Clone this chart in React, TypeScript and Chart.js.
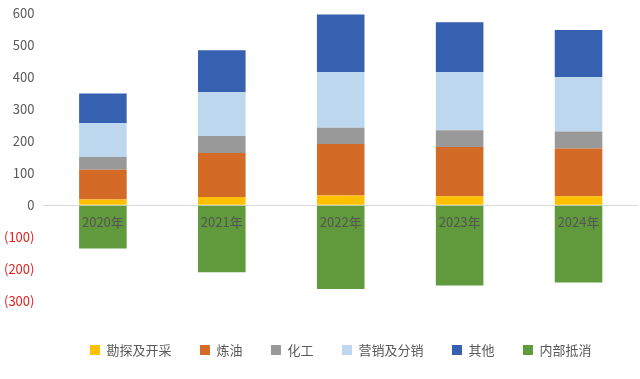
import React, { useEffect, useRef } from "react";
import { Chart, registerables } from "chart.js";

Chart.register(...registerables);

const categories = ["2020年", "2021年", "2022年", "2023年", "2024年"];
const seriesNames = ["勘探及开采", "炼油", "化工", "营销及分销", "其他", "内部抵消"];
const exploration = [18, 26, 31, 28, 28];
const refining = [93, 137, 160, 154, 149];
const chemicals = [40, 53, 51, 52, 53];
const marketing = [106, 137, 174, 182, 170];
const others = [92, 131, 179, 155, 147];
const elimination = [-135, -209, -261, -250, -241];
const seriesColors = ["#FFC000", "#D36B26", "#999999", "#BDD7EE", "#3660B0", "#619A3C"];
const yMin = -300;
const yMax = 600;
const yStep = 100;

const FONT = "'Noto Sans CJK SC', 'Noto Sans', sans-serif";

export default function App() {
  const ref = useRef<HTMLCanvasElement | null>(null);
  useEffect(() => {
    document.body.style.margin = "0";
    const values = [exploration, refining, chemicals, marketing, others, elimination];
    const chart = new Chart(ref.current as HTMLCanvasElement, {
      type: "bar",
      data: {
        labels: categories,
        datasets: seriesNames.map((name, i) => ({
          label: name,
          data: values[i],
          backgroundColor: seriesColors[i],
          borderWidth: 0,
          barPercentage: 0.4,
          categoryPercentage: 1.0,
        })),
      },
      options: {
        animation: false,
        responsive: false,
        maintainAspectRatio: false,
        layout: { padding: { left: -5, right: 2, top: 13, bottom: 12.5 } },
        plugins: {
          tooltip: { enabled: false },
          legend: {
            position: "bottom",
            fullSize: false,
            title: { display: true, text: "", padding: 0, font: { size: 11.25 } },
            labels: {
              boxWidth: 10,
              boxHeight: 10,
              padding: 28.5,
              color: "#595959",
              font: { family: FONT, size: 13 },
            },
          },
        },
        scales: {
          x: {
            stacked: true,
            position: { y: 0 } as any,
            grid: { display: false, drawTicks: false },
            border: { display: false },
            ticks: {
              z: 1,
              color: "#555555",
              padding: 9,
              font: { family: FONT, size: 13 },
            },
          },
          y: {
            stacked: true,
            min: yMin,
            max: yMax,
            afterFit: (scale: any) => {
              scale.paddingTop = 8;
              scale.paddingBottom = 8;
            },
            grid: {
              display: true,
              drawTicks: false,
              color: (ctx: any) => (ctx.tick && ctx.tick.value === 0 ? "#D9D9D9" : "rgba(0,0,0,0)"),
            },
            border: { display: false },
            ticks: {
              stepSize: yStep,
              padding: 9,
              font: { family: FONT, size: 13 },
              color: (ctx: any) => (ctx.tick && ctx.tick.value < 0 ? "#E02020" : "#595959"),
              callback: (v: any) => (Number(v) < 0 ? `(${-Number(v)})` : `${v}`),
            },
          },
        },
      },
    });
    return () => chart.destroy();
  }, []);
  return (
    <div style={{ position: "fixed", left: 0, top: 0, width: 640, height: 379, background: "#fff" }}>
      <canvas ref={ref} width={640} height={379} style={{ width: 640, height: 379 }} />
    </div>
  );
}
